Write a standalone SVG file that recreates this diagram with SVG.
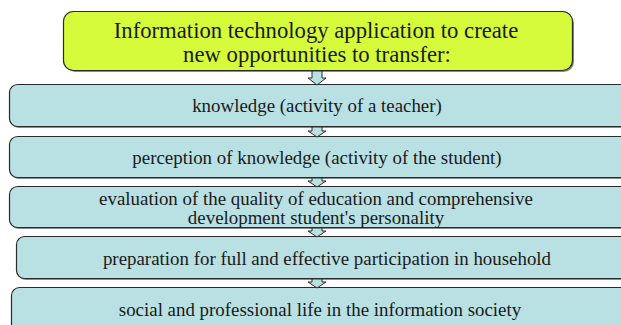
<svg xmlns="http://www.w3.org/2000/svg" width="621" height="325" viewBox="0 0 621 325">
<style>
.box{fill:#b9e0e3;stroke:#2b2b2b;stroke-width:1.2}
.top{fill:#d5fb3b;stroke:#2b2b2b;stroke-width:1.2}
.sh{fill:#8a8a8a}
text{font-family:"Liberation Serif","Times New Roman",serif;fill:#1a1a1a;text-anchor:middle}
.s{font-size:18.9px}
.b{font-size:22.7px}
.arr{fill:#b9e0e3;stroke:#2b2b2b;stroke-width:1}
</style>
<rect width="621" height="325" fill="#ffffff"/>
<g id="node-top">
<rect class="sh" x="65" y="13" width="509" height="59" rx="10"/>
<rect class="top" x="63.5" y="11.5" width="509" height="59" rx="10"/>
<text class="b" x="316" y="38">Information technology application to create</text>
<text class="b" x="317" y="62">new opportunities to transfer:</text>
</g>
<g id="node-1">
<rect class="sh" x="11" y="86" width="625" height="42" rx="8"/>
<rect class="box" x="9.5" y="84.5" width="625" height="42" rx="8"/>
<text class="s" x="317" y="111.5">knowledge (activity of a teacher)</text>
</g>
<g id="node-2">
<rect class="sh" x="11" y="138" width="625" height="41" rx="8"/>
<rect class="box" x="9.5" y="136.5" width="625" height="41" rx="8"/>
<text class="s" x="317" y="163.5">perception of knowledge (activity of the student)</text>
</g>
<g id="node-3">
<rect class="sh" x="11" y="188" width="625" height="41" rx="8"/>
<rect class="box" x="9.5" y="186.5" width="625" height="41" rx="8"/>
<text class="s" x="316" y="205">evaluation of the quality of education and comprehensive</text>
<text class="s" x="316" y="224">development student's personality</text>
</g>
<g id="node-4">
<rect class="sh" x="18" y="238" width="625" height="42" rx="8"/>
<rect class="box" x="16.5" y="236.5" width="625" height="42" rx="8"/>
<text class="s" x="327" y="264.5">preparation for full and effective participation in household</text>
</g>
<g id="node-5">
<rect class="sh" x="13" y="289" width="625" height="50" rx="8"/>
<rect class="box" x="11.5" y="287.5" width="625" height="50" rx="8"/>
<text class="s" x="320" y="315.5">social and professional life in the information society</text>
</g>
<g id="connectors">
<polygon class="arr" points="312,71 322,71 322,78 326,78 317,85 308,78 312,78"/>
<polygon class="arr" points="312,127 322,127 322,131 326,131 317,137 308,131 312,131"/>
<polygon class="arr" points="312,178 322,178 322,181 326,181 317,187 308,181 312,181"/>
<polygon class="arr" points="312,228 322,228 322,231 326,231 317,237 308,231 312,231"/>
<polygon class="arr" points="312,279 322,279 322,282 326,282 317,288 308,282 312,282"/>
</g>
</svg>
